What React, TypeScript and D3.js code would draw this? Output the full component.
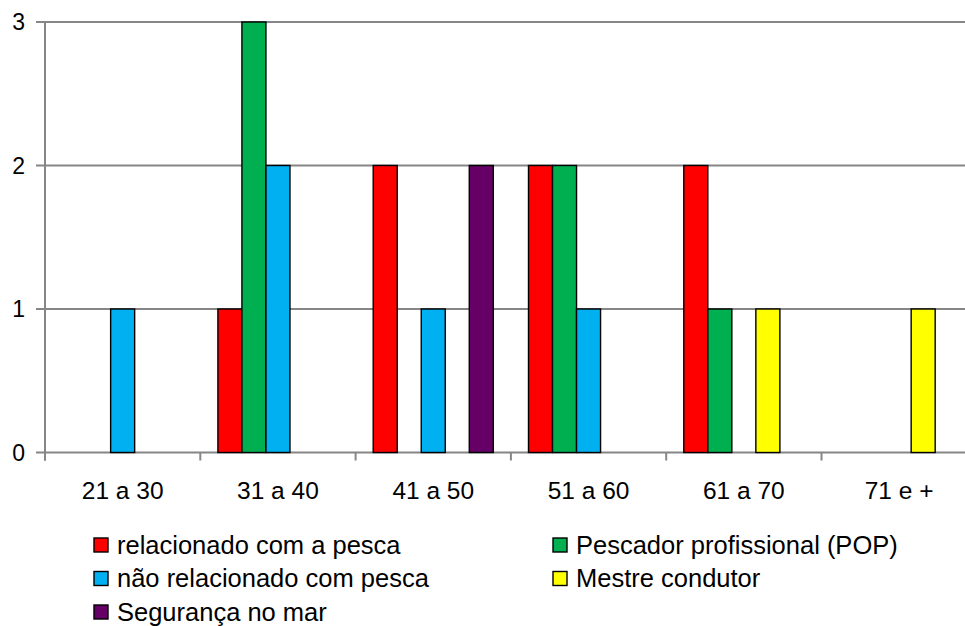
import React from "react";
import * as d3 from "d3";

const categories = ["21 a 30", "31 a 40", "41 a 50", "51 a 60", "61 a 70", "71 e +"];
const seriesNames = [
  "relacionado com a pesca",
  "Pescador profissional (POP)",
  "não relacionado com pesca",
  "Mestre condutor",
  "Segurança no mar",
];
const seriesColors = ["#FF0000", "#00B050", "#00B0F0", "#FFFF00", "#660066"];
const relacionado = [0, 1, 2, 2, 2, 0];
const pescador = [0, 3, 0, 2, 1, 0];
const naoRelacionado = [1, 2, 1, 1, 0, 0];
const mestre = [0, 0, 0, 0, 1, 1];
const seguranca = [0, 0, 2, 0, 0, 0];
const seriesValues = [relacionado, pescador, naoRelacionado, mestre, seguranca];
const yTicks = [0, 1, 2, 3];

const W = 965;
const H = 626;
const FONT = "'Liberation Sans', Arial, sans-serif";

export default function App() {
  const left = 45;
  const catW = 155.3;
  const x = d3
    .scaleBand<string>()
    .domain(categories)
    .range([left, left + catW * categories.length])
    .paddingInner(0)
    .paddingOuter(0);
  const inner = d3
    .scaleBand<number>()
    .domain(d3.range(seriesNames.length))
    .range([17.6, catW - 17.6]);
  const y = d3.scaleLinear().domain([0, 3]).range([452.5, 22]);

  const tickPositions = categories.map((c) => x(c)!);

  return (
    <div style={{ position: "fixed", left: 0, top: 0 }}>
      <svg width={W} height={H} style={{ display: "block", background: "#fff" }} fontFamily={FONT}>
        {/* gridlines */}
        {yTicks.map((t) => (
          <line key={"g" + t} x1={36} x2={W} y1={y(t)} y2={y(t)} stroke="#868686" strokeWidth={2} />
        ))}
        {/* y axis */}
        <line x1={left} x2={left} y1={y(3)} y2={y(0) + 8} stroke="#868686" strokeWidth={2} />
        {tickPositions.map((p, i) => (
          <line key={"xt" + i} x1={p} x2={p} y1={y(0)} y2={y(0) + 8} stroke="#868686" strokeWidth={2} />
        ))}
        {yTicks.map((t) => (
          <text key={"yl" + t} x={25} y={y(t)} dy="0.35em" textAnchor="end" fontSize={23} fill="#000">
            {t}
          </text>
        ))}
        {/* bars */}
        {seriesValues.map((vals, si) =>
          vals.map((v, ci) =>
            v > 0 ? (
              <rect
                key={`b${si}-${ci}`}
                x={x(categories[ci])! + inner(si)!}
                y={y(v)}
                width={inner.bandwidth()}
                height={y(0) - y(v)}
                fill={seriesColors[si]}
                stroke="#000"
                strokeWidth={1.4}
              />
            ) : null
          )
        )}
        {/* x labels */}
        {categories.map((c) => (
          <text key={"xl" + c} x={x(c)! + x.bandwidth() / 2} y={490} dy="0.35em" textAnchor="middle" fontSize={24.5} fill="#000">
            {c}
          </text>
        ))}
        {/* legend */}
        {seriesNames.map((name, i) => {
          const col = i % 2;
          const row = Math.floor(i / 2);
          const bx = col === 0 ? 94 : 553;
          const cy = 545 + row * 33.5;
          return (
            <g key={"lg" + i}>
              <rect x={bx} y={cy - 7} width={14} height={14} fill={seriesColors[i]} stroke="#000" strokeWidth={1.4} />
              <text x={bx + 23} y={cy} dy="0.35em" fontSize={25.5} fill="#000">
                {name}
              </text>
            </g>
          );
        })}
      </svg>
    </div>
  );
}
